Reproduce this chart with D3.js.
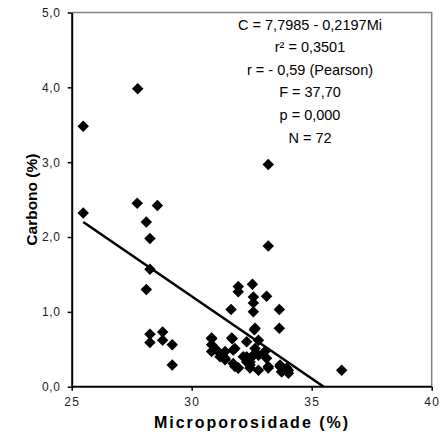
<!DOCTYPE html>
<html><head><meta charset="utf-8">
<script src="https://cdn.jsdelivr.net/npm/d3@7"></script>
<style>body{margin:0;background:#fff}svg{display:block}</style>
</head><body>
<script>
const microporosidade = [25.48,25.48,27.75,27.73,28.57,28.11,28.26,28.26,28.11,28.26,28.26,28.79,28.79,29.19,29.19,33.19,33.19,
31.94,32.53,31.94,32.57,33.12,32.57,31.64,32.57,33.65,33.65,32.61,30.83,30.83,30.83,31.69,31.80,31.39,32.78,32.64,32.57,33.05,31.39,31.80,32.43,32.43,33.19,33.68,34.03,33.75,36.25,31.18,
31.04,31.25,31.73,32.15,31.94,32.29,32.29,32.78,33.12,33.96,34.03,32.78,31.73,
30.83,31.67,32.64,33.19,32.43,31.39,33.68,32.57,31.94,33.75,32.29];
const carbono = [3.48,2.32,3.98,2.45,2.42,2.20,1.98,1.57,1.30,0.70,0.59,0.73,0.62,0.56,0.29,2.97,1.88,
1.34,1.37,1.27,1.20,1.21,1.12,1.03,1.00,1.03,0.78,0.76,0.64,0.56,0.47,0.64,0.51,0.47,0.62,0.51,0.42,0.47,0.36,0.27,0.25,0.33,0.25,0.29,0.22,0.20,0.22,0.40,
0.49,0.42,0.31,0.40,0.25,0.33,0.60,0.42,0.38,0.25,0.18,0.22,0.49,
0.65,0.65,0.78,0.27,0.29,0.38,0.27,0.42,0.25,0.20,0.40];
const fitIntercept = 7.7985, fitSlope = -0.2197;
const fitRange = [25.48, 35.5];
const xTicks = [25,30,35,40];
const yTicks = [0,1,2,3,4,5];
const statsLines = ["C = 7,7985 - 0,2197Mi","r² = 0,3501","r = - 0,59 (Pearson)","F = 37,70","p = 0,000","N = 72"];
const xTitle = "Microporosidade (%)", yTitle = "Carbono (%)";

const W=441,H=435, L=71.7, R=431.7, T=12.5, B=386.7;
const svg=d3.select("body").append("svg").attr("width",W).attr("height",H);
const x=d3.scaleLinear().domain([25,40]).range([L,R]);
const y=d3.scaleLinear().domain([0,5]).range([B,T]);
const font="'Liberation Sans', Arial, sans-serif";

// frame (top/right gray)
svg.append("path").attr("d",`M${L},${T}H${R}V${B}`).attr("fill","none").attr("stroke","#808080").attr("stroke-width",1.5);

// axes
const xa=svg.append("g").attr("transform",`translate(0,${B})`)
  .call(d3.axisBottom(x).tickValues(xTicks).tickSize(4).tickSizeOuter(0).tickFormat(d3.format("d")));
const ya=svg.append("g").attr("transform",`translate(${L},0)`)
  .call(d3.axisLeft(y).tickValues(yTicks).tickSize(4).tickSizeOuter(0).tickFormat(d=>d.toFixed(1).replace(".",",")));
[xa,ya].forEach(g=>{
  g.select(".domain").attr("stroke","#000").attr("stroke-width",2);
  g.selectAll(".tick line").attr("stroke","#000").attr("stroke-width",1.5);
  g.selectAll("text").attr("font-family",font).attr("font-size",12).attr("fill","#222");
});
xa.selectAll("text").attr("dy","1.05em").attr("letter-spacing","1.2px");
ya.selectAll("text").attr("dx","-0.35em").attr("letter-spacing","0.6px");
xa.select(".domain").attr("d",`M${L},0H${R}`);

// regression line
const lineG=d3.line().x(d=>x(d)).y(d=>y(fitIntercept+fitSlope*d));
svg.append("path").attr("d",lineG(fitRange)).attr("stroke","#000").attr("stroke-width",2.6).attr("fill","none");

// points
const diamond=d3.symbol().type(d3.symbolSquare).size(66);
svg.append("g").selectAll("path").data(microporosidade.map((m,i)=>[m,carbono[i]])).join("path")
  .attr("d",diamond).attr("transform",d=>`translate(${x(d[0])},${y(d[1])}) rotate(45)`).attr("fill","#000");

// stats text
svg.append("g").selectAll("text").data(statsLines).join("text")
  .attr("x",310).attr("y",(d,i)=>29.5+i*22.6).attr("text-anchor","middle")
  .attr("font-family",font).attr("font-size",14.5).attr("fill","#000").text(d=>d);

// titles
svg.append("text").attr("x",252).attr("y",428).attr("text-anchor","middle")
  .attr("font-family",font).attr("font-size",16).attr("font-weight","bold").attr("letter-spacing","2px").text(xTitle);
svg.append("text").attr("transform",`translate(37,${(T+B)/2}) rotate(-90)`).attr("text-anchor","middle")
  .attr("font-family",font).attr("font-size",15.5).attr("font-weight","bold").text(yTitle);
</script>
</body></html>
